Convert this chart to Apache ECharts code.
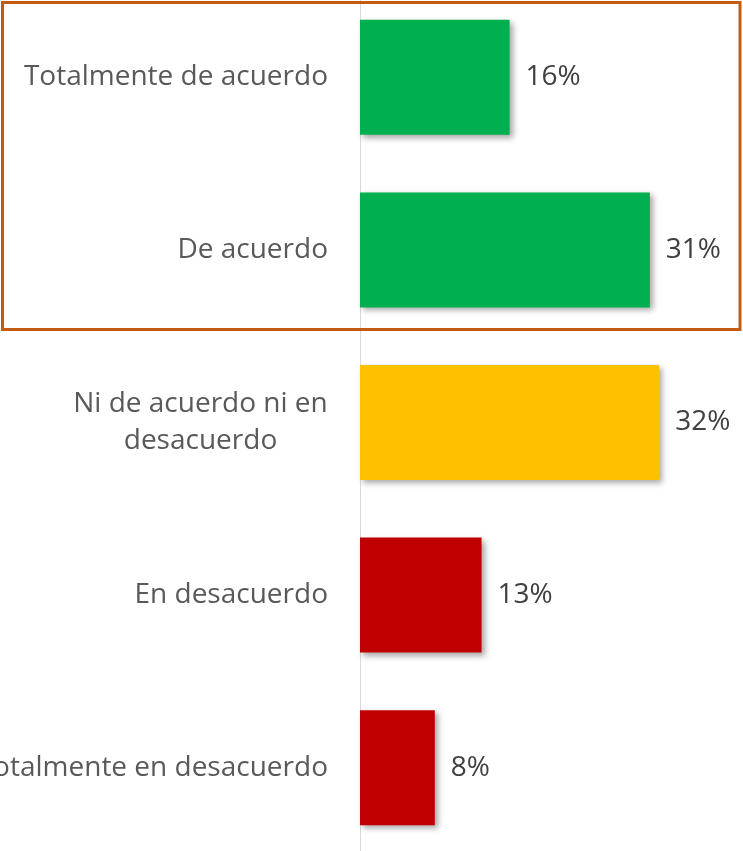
<!DOCTYPE html>
<html>
<head>
<meta charset="utf-8">
<script src="https://cdn.jsdelivr.net/npm/echarts@6/dist/echarts.min.js"></script>
<style>
  html, body { margin: 0; padding: 0; background: #fff; overflow: hidden; }
  /* el área de la gráfica sobresale un poco arriba y abajo, como en el original */
  #chart { position: absolute; left: 0; top: -9px; width: 743px; height: 863px; }
</style>
</head>
<body>
<div id="chart"></div>
<script>
// categorías (de arriba a abajo)
const categories = [
  'Totalmente de acuerdo',
  'De acuerdo',
  'Ni de acuerdo ni en\ndesacuerdo',
  'En desacuerdo',
  'Totalmente en desacuerdo'
];
// porcentajes
const values = [16, 31, 32, 13, 8];
// color de cada barra
const barColors = ['#00B050', '#00B050', '#FFC000', '#C00000', '#C00000'];

const FONT = '"Open Sans", "Noto Sans", sans-serif';
const FSIZE = 28;

// ancho de la primera línea para centrar la etiqueta de dos líneas
function textWidth(txt) {
  const ctx = document.createElement('canvas').getContext('2d');
  ctx.font = FSIZE + 'px "Open Sans"';
  return Math.ceil(ctx.measureText(txt).width);
}

const myChart = echarts.init(document.getElementById('chart'));

const option = {
  animation: false,
  grid: { left: 360, right: 9, top: 0, bottom: 0, outerBoundsMode: 'none', containLabel: false },
  xAxis: {
    type: 'value',
    min: 0,
    max: 40,
    show: false
  },
  yAxis: {
    type: 'category',
    inverse: true,
    data: categories,
    axisTick: { show: false },
    axisLine: { show: true, lineStyle: { color: '#D9D9D9', width: 1 } },
    axisLabel: {
      margin: 32,
      color: '#595959',
      fontFamily: FONT,
      fontSize: FSIZE,
      lineHeight: 37,
      formatter: function (val) {
        if (val.indexOf('\n') >= 0) {
          return val.split('\n').map(l => '{c|' + l + '}').join('\n');
        }
        return val;
      },
      rich: {
        c: {
          width: textWidth('Ni de acuerdo ni en'),
          align: 'center',
          color: '#595959',
          fontFamily: FONT,
          fontSize: FSIZE,
          lineHeight: 37
        }
      }
    }
  },
  series: [{
    type: 'bar',
    barWidth: 115,
    data: values.map((v, i) => ({
      value: v,
      itemStyle: { color: barColors[i] }
    })),
    itemStyle: {
      shadowColor: 'rgba(0,0,0,0.35)',
      shadowBlur: 6,
      shadowOffsetX: 3,
      shadowOffsetY: 3
    },
    label: {
      show: true,
      position: 'right',
      distance: 16,
      color: '#404040',
      fontFamily: FONT,
      fontSize: FSIZE,
      formatter: '{c}%'
    }
  }],
  graphic: [{
    type: 'rect',
    z: 100,
    shape: { x: 2.5, y: 11.5, width: 737.5, height: 327 },
    style: { fill: 'none', stroke: '#C55A11', lineWidth: 3 }
  }]
};

myChart.setOption(option);
window.addEventListener('resize', () => myChart.resize());
</script>
</body>
</html>
